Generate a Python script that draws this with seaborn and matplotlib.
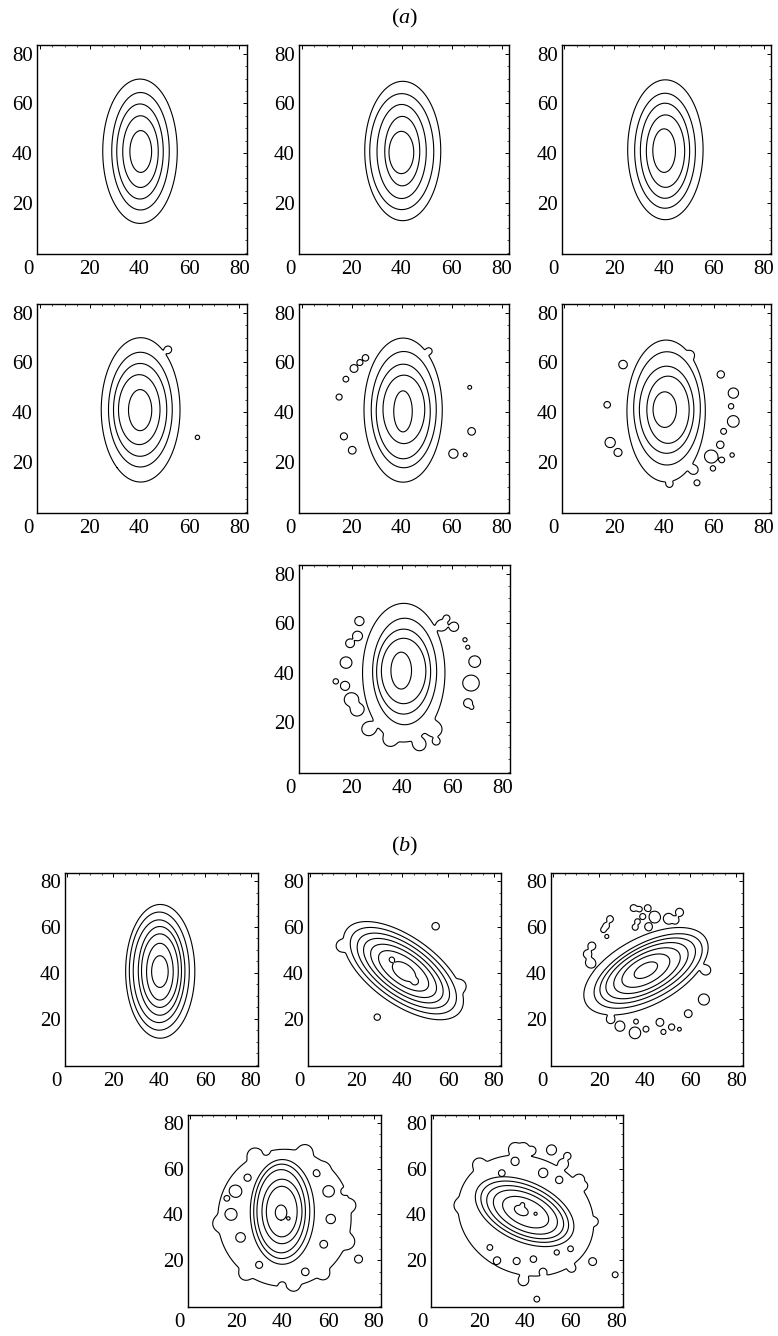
import numpy as np
import matplotlib
matplotlib.use("Agg")
import matplotlib.pyplot as plt
import matplotlib.transforms as mtrans
from matplotlib.ticker import MultipleLocator
import seaborn as sns

# ---------------- data ----------------
# panel order: (a) 1..7, (b) 1..5 ; contour 0 = outermost
PANEL_ANGLE_DEG = [90, 90, 90, 90, 90, 90, 90, 90, -35.8, 28.0, 90, -25.0]

CONTOUR_CX = [
    [40.2, 40.4, 40.2, 40.4, 40.5],
    [40.5, 40.1, 40.05, 40.3, 39.95],
    [40.55, 40.4, 40.4, 40.6, 40.05],
    [40.45, 40.35, 40.25, 39.9, 40.25],
    [40.65, 40.9, 40.7, 40.95, 40.6],
    [40.85, 41.2, 41.05, 41.6, 40.3],
    [40.7, 41.05, 40.65, 40.65, 39.7],
    [40.45, 40.05, 39.95, 40.3, 40.3, 40.3, 40.3],
    [40.5, 40.5, 40.5, 40.5, 40.6, 40.6, 40.8],
    [40.55, 41.5, 41.3, 41.0, 41.0, 40.5, 40.5],
    [41.0, 40.05, 39.8, 39.55, 39.9, 39.8, 39.5],
    [40.5, 39.95, 40.0, 40.2, 40.3, 40.4, 38.5],
]
CONTOUR_CY = [
    [40.8, 40.8, 40.7, 40.65, 40.7],
    [40.9, 40.65, 40.7, 40.85, 40.3],
    [41.4, 41.0, 41.0, 40.85, 41.05],
    [40.95, 41.05, 40.95, 41.05, 40.85],
    [40.85, 41.05, 40.3, 41.15, 40.35],
    [40.5, 41.55, 41.0, 41.0, 41.05],
    [40.0, 40.5, 40.45, 40.7, 40.85],
    [40.7, 40.8, 40.75, 40.9, 41.0, 40.55, 40.6],
    [41.0, 41.0, 41.0, 41.0, 40.9, 40.9, 40.6],
    [40.75, 40.85, 41.0, 41.0, 41.0, 41.0, 41.2],
    [38.5, 41.1, 41.35, 41.4, 41.3, 41.25, 40.8],
    [39.5, 41.2, 41.2, 41.0, 41.0, 41.0, 41.7],
]
CONTOUR_MAJOR = [
    [29.0, 23.6, 19.1, 14.4, 8.4],
    [28.0, 23.3, 18.9, 13.95, 8.5],
    [28.1, 23.1, 19.1, 14.55, 8.75],
    [29.0, 23.05, 18.65, 14.05, 8.25],
    [28.95, 23.35, 19.0, 13.75, 8.25],
    [28.5, 22.75, 17.5, 13.5, 7.15],
    [28.0, 21.5, 17.15, 13.2, 7.45],
    [29.1, 25.7, 22.35, 19.3, 16.0, 12.35, 6.9],
    [30.5, 27.0, 23.5, 20.3, 16.8, 12.8, 5.8],
    [29.8, 26.0, 23.0, 19.8, 16.0, 11.5, 5.6],
    [30.0, 22.9, 20.65, 18.2, 14.1, 11.05, 3.3],
    [30.5, 23.0, 20.5, 18.0, 15.0, 10.8, 3.2],
]
CONTOUR_MINOR = [
    [14.9, 11.5, 9.3, 7.1, 4.35],
    [15.2, 12.8, 9.85, 7.0, 4.95],
    [15.15, 12.2, 9.9, 7.7, 4.55],
    [15.75, 12.75, 10.65, 8.3, 4.65],
    [15.65, 13.0, 10.8, 8.35, 3.7],
    [15.75, 13.4, 10.95, 8.5, 4.7],
    [16.4, 12.75, 10.75, 8.85, 4.1],
    [15.05, 13.05, 11.25, 9.4, 8.0, 5.8, 3.6],
    [14.5, 12.6, 10.9, 9.2, 7.6, 5.7, 3.3],
    [14.6, 12.1, 10.5, 9.0, 7.4, 5.5, 2.8],
    [29.0, 13.95, 12.2, 10.55, 8.7, 6.7, 2.5],
    [25.5, 13.0, 11.3, 9.7, 8.0, 5.7, 2.0],
]

# small closed contours / bulges (x, y, radius, contour index)
ISLANDS = [
    [],
    [],
    [],
    [(51.5, 65.2, 0.7, 0), (63.2, 29.9, 0.6, 0)],
    [(15.0, 46.1, 0.9, 0), (17.7, 53.3, 0.8, 0), (20.9, 57.6, 1.0, 0),
     (23.3, 60.0, 0.7, 0), (25.5, 61.9, 0.7, 0), (16.9, 30.3, 1.0, 0),
     (20.2, 24.7, 1.0, 0), (51.0, 64.6, 0.6, 0), (67.3, 50.0, 0.6, 0),
     (68.1, 32.3, 1.2, 0), (60.9, 23.3, 1.2, 0), (65.5, 22.9, 0.6, 0)],
    [(23.4, 59.2, 1.0, 0), (17.1, 43.0, 0.9, 0), (18.2, 27.8, 1.4, 0),
     (21.4, 23.8, 1.0, 0), (62.9, 55.2, 1.0, 0), (68.0, 47.7, 1.6, 0),
     (67.0, 42.4, 0.8, 0), (68.0, 36.3, 1.8, 0), (64.0, 32.3, 0.8, 0),
     (62.7, 26.9, 1.0, 0), (59.3, 22.1, 1.6, 0), (63.3, 20.8, 0.8, 0),
     (67.4, 22.8, 0.7, 0), (59.7, 17.4, 0.7, 0), (53.3, 11.6, 0.7, 0),
     (52.0, 16.8, 0.9, 0), (42.2, 11.1, 0.6, 0), (50.5, 63.0, 0.8, 0)],
    [(22.9, 60.9, 1.1, 0), (22.1, 54.9, 1.1, 0), (19.2, 51.9, 1.1, 0),
     (17.5, 44.1, 1.5, 0), (13.6, 36.5, 0.8, 0), (17.2, 34.7, 1.2, 0),
     (19.5, 29.1, 1.7, 0), (21.8, 25.0, 1.5, 0), (26.5, 17.2, 1.5, 0),
     (35.2, 12.9, 1.3, 0), (47.1, 10.9, 1.3, 0), (53.1, 17.0, 1.6, 0),
     (53.7, 12.3, 0.9, 0), (56.2, 59.3, 1.2, 0), (60.8, 58.6, 1.2, 0),
     (57.8, 62.0, 0.8, 0), (65.1, 53.3, 0.6, 0), (66.2, 50.3, 0.6, 0),
     (69.1, 44.5, 1.8, 0), (67.8, 35.8, 2.4, 0), (66.4, 27.7, 1.3, 0),
     (67.8, 26.0, 0.6, 0)],
    [],
    [(54.6, 60.4, 1.2, 0), (29.1, 20.7, 1.0, 0), (13.6, 51.7, 1.2, 0),
     (65.2, 34.4, 1.3, 0), (35.4, 45.9, 0.7, 6), (45.6, 36.2, 0.9, 6)],
    [(35.1, 68.3, 1.2, 0), (37.7, 67.8, 0.9, 0), (41.3, 68.3, 1.1, 0),
     (44.3, 64.6, 1.6, 0), (39.1, 64.6, 0.9, 0), (36.8, 62.4, 0.8, 0),
     (35.8, 60.0, 0.8, 0), (41.6, 60.3, 0.9, 0), (50.4, 63.9, 1.3, 0),
     (55.2, 66.5, 1.1, 0), (53.3, 63.2, 0.9, 0), (24.8, 63.5, 1.2, 0),
     (23.1, 60.5, 1.1, 0), (21.9, 58.8, 0.9, 0), (23.4, 55.9, 0.6, 0),
     (16.8, 51.8, 1.2, 0), (14.9, 48.3, 1.2, 0), (16.1, 44.6, 1.2, 0),
     (66.9, 41.1, 1.1, 0), (66.0, 28.3, 1.8, 0), (59.1, 22.2, 1.3, 0),
     (46.7, 18.4, 1.2, 0), (48.2, 14.3, 0.9, 0), (51.8, 16.4, 1.1, 0),
     (55.2, 15.5, 0.7, 0), (40.6, 15.5, 0.9, 0), (35.8, 13.7, 1.8, 0),
     (29.2, 16.6, 1.3, 0), (25.1, 19.6, 0.9, 0), (36.2, 18.8, 0.6, 0)],
    [(73.3, 20.4, 1.0, 0), (42.8, 38.2, 0.5, 6),
     (28.0, 66.0, 1.5, 0), (50.0, 67.5, 1.5, 0), (58.0, 60.0, 1.2, 0),
     (13.0, 36.0, 1.5, 0), (69.5, 44.0, 1.2, 0), (68.5, 28.0, 1.5, 0),
     (24.0, 14.0, 1.3, 0), (45.0, 9.0, 1.2, 0), (58.0, 14.0, 1.2, 0)],
    [(51.8, 68.4, 1.2, 0), (58.7, 65.6, 0.9, 0), (57.0, 62.3, 1.1, 0),
     (64.0, 55.4, 1.1, 0), (65.7, 52.7, 0.9, 0), (69.8, 19.3, 0.9, 0),
     (79.6, 13.6, 0.9, 0), (45.3, 2.9, 0.8, 0), (39.4, 10.9, 1.1, 0),
     (70.4, 36.9, 0.8, 0), (60.6, 16.4, 0.8, 0), (35.8, 68.9, 1.4, 0),
     (39.4, 68.9, 1.4, 0), (43.1, 68.1, 0.9, 0), (39.1, 44.4, 0.6, 6),
     (44.8, 40.3, 0.6, 6), (12.0, 44.0, 1.3, 0), (20.0, 62.0, 1.3, 0)],
]

# holes / notches in the outermost contour (x, y, radius)
HOLES = [
    [], [], [], [], [], [], [], [], [], [],
    [(20.0, 50.0, 2.5), (18.0, 40.0, 2.5), (22.0, 30.0, 2.2), (25.0, 56.0, 1.5),
     (60.0, 50.0, 2.5), (61.0, 38.0, 2.2), (58.0, 27.0, 1.8), (55.0, 58.0, 1.5),
     (30.0, 18.0, 1.5), (50.0, 15.0, 1.5), (33.0, 67.5, 1.2), (40.0, 9.0, 1.2),
     (16.0, 47.0, 1.0), (67.0, 50.0, 1.2)],
    [(36.5, 19.7, 1.5), (43.8, 20.5, 1.5), (24.8, 25.6, 1.2), (54.0, 23.4, 1.2),
     (48.0, 58.0, 2.0), (35.8, 63.0, 1.5), (30.0, 58.0, 1.5), (55.0, 55.0, 1.5),
     (28.0, 20.0, 1.3), (48.0, 15.0, 1.3), (60.0, 25.0, 1.2)],
]

X_TICKS = [0, 20, 40, 60, 80]
Y_TICKS = [20, 40, 60, 80]
TITLES = [r"($a$)", r"($b$)"]

# ---------------- layout (pixels) ----------------
W, H = 778, 1336
AXES_PX = [
    (37, 45, 247, 254), (299, 45, 509, 254), (562, 45, 771, 254),
    (37, 304, 247, 513), (299, 304, 509, 513), (562, 304, 771, 513),
    (299, 565, 510, 773),
    (65, 873, 258, 1066), (308, 873, 501, 1066), (551, 873, 743, 1066),
    (188, 1115, 381, 1307), (431, 1115, 623, 1307),
]
TITLE_PX = [(405, 18), (405, 846)]

sns.set_theme(style="white")
plt.rcParams.update({
    "font.family": ["Liberation Serif", "DejaVu Serif"],
    "mathtext.fontset": "custom",
    "mathtext.rm": "Liberation Serif",
    "mathtext.it": "Liberation Serif:italic",
    "axes.edgecolor": "black",
    "axes.linewidth": 1.0,
    "xtick.color": "black",
    "ytick.color": "black",
    "text.color": "black",
})

fig = plt.figure(figsize=(W / 100, H / 100), dpi=100)
fig.patch.set_facecolor("white")

grid = np.linspace(-1, 83, 337)
GX, GY = np.meshgrid(grid, grid)

for p, (l, t, r, b) in enumerate(AXES_PX):
    ax = fig.add_axes([l / W, 1 - b / H, (r - l) / W, (b - t) / H])
    th = np.deg2rad(PANEL_ANGLE_DEG[p])
    for k in range(len(CONTOUR_MAJOR[p])):
        dx = GX - CONTOUR_CX[p][k]
        dy = GY - CONTOUR_CY[p][k]
        u = dx * np.cos(th) + dy * np.sin(th)
        v = -dx * np.sin(th) + dy * np.cos(th)
        q2 = (u / CONTOUR_MAJOR[p][k]) ** 2 + (v / CONTOUR_MINOR[p][k]) ** 2
        F = np.exp(-0.5 * (q2 - 1.0))
        for (ix, iy, ir, lev) in ISLANDS[p]:
            if lev == k:
                w = ir / np.sqrt(2 * np.log(2))
                F = F + 2.0 * np.exp(-((GX - ix) ** 2 + (GY - iy) ** 2) / (2 * w * w))
        if k == 0:
            for (hx, hy, hr) in HOLES[p]:
                w = hr / 1.9
                g = np.exp(-((GX - hx) ** 2 + (GY - hy) ** 2) / (2 * w * w))
                F = F * np.exp(-1.2 * g)
        ax.contour(GX, GY, F, levels=[1.0], colors="black", linewidths=0.8)

    ax.set_xlim(-1, 83)
    ax.set_ylim(-0.5, 83.5)
    ax.set_xticks(X_TICKS)
    ax.set_yticks(Y_TICKS)
    ax.xaxis.set_minor_locator(MultipleLocator(5))
    ax.yaxis.set_minor_locator(MultipleLocator(5))
    ax.tick_params(which="major", direction="in", length=3, width=0.7,
                   top=True, right=True, labelsize=15)
    ax.tick_params(axis="x", which="major", pad=4)
    ax.tick_params(axis="y", which="major", pad=3)
    ax.tick_params(which="minor", direction="in", length=1.5, width=0.5,
                   top=True, right=True)
    for s in ax.spines.values():
        s.set_color("black")
        s.set_linewidth(1.0)
    ax.set_facecolor("white")
    ax.grid(False)
    lbl0 = ax.get_xticklabels()[0]
    lbl0.set_transform(lbl0.get_transform() +
                       mtrans.ScaledTranslation(-11 / 100, 0, fig.dpi_scale_trans))

for (tx, ty), txt in zip(TITLE_PX, TITLES):
    fig.text(tx / W, 1 - ty / H, txt, ha="center", va="center", fontsize=16)

fig.savefig("out.png", dpi=100, facecolor="white")
